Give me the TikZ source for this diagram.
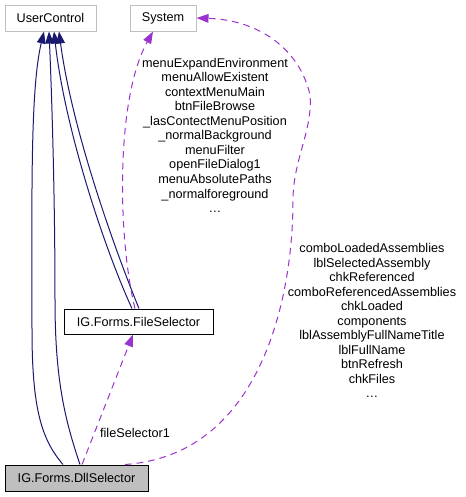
\documentclass[tikz,border=0pt]{standalone}
\usepackage{fontspec}
\setsansfont{Liberation Sans}
\usetikzlibrary{arrows.meta, calc}
\definecolor{inhcolor}{HTML}{191970}
\definecolor{usecolor}{HTML}{9A32CD}
\definecolor{extgray}{HTML}{BFBFBF}

\begin{document}
\begin{tikzpicture}[
    x=0.75pt, y=-0.75pt,
    every node/.style={font=\sffamily\fontsize{9.5pt}{10.9pt}\selectfont},
    extbox/.style={rectangle, draw=extgray, fill=white, line width=0.75pt, minimum height=19.5pt, inner sep=0pt},
    classbox/.style={rectangle, draw=black, fill=white, line width=0.75pt, minimum height=19.5pt, inner sep=0pt},
    curbox/.style={classbox, fill=extgray},
    inherit/.style={draw=inhcolor, line width=0.75pt, -{Triangle[length=9pt, width=6.5pt]}},
    usage/.style={draw=usecolor, line width=0.75pt, dash pattern=on 5pt off 3.75pt, -{Triangle[length=9pt, width=6.5pt]}},
    memberlabel/.style={align=center, inner sep=0pt},
]
\useasboundingbox (0,0) rectangle (465,497);
% classes
\node[extbox, minimum width=68.25pt] (uc) at (50.5,18) {UserControl};
\node[extbox, minimum width=49.5pt] (sys) at (163,18) {System};
\node[classbox, minimum width=111.75pt, minimum height=18.75pt] (fsel) at (138.5,321.5) {IG.Forms.FileSelector};
\node[curbox, minimum width=107.25pt] (dll) at (76.5,478) {IG.Forms.DllSelector};
% inheritance
\draw[inherit] ($(dll.north)+(-13.5,0)$) .. controls (42,440) and (32,410) .. (32,330)
    .. controls (32,200) and (30,90) .. ($(uc.south)+(-6.5,0)$);
\draw[inherit] ($(dll.north)+(3.5,0)$) .. controls (65,420) and (55,380) .. (55,300)
    .. controls (55,200) and (52,100) .. ($(uc.south)+(-1.5,0)$);
\draw[inherit] ($(fsel.north)+(-6.5,0)$) .. controls (105,250) and (65,130) .. ($(uc.south)+(3.5,0)$);
\draw[inherit] ($(fsel.north)+(0.5,0)$) .. controls (115,250) and (72,130) .. ($(uc.south)+(8.5,0)$);
% usage
\draw[usage] ($(fsel.north)+(-3.5,0)$) .. controls (118,240) and (115,100) .. ($(sys.south)+(-10,0)$);
\draw[usage] ($(dll.north)+(5.5,0)$) -- ($(fsel.south)+(-5.5,0)$);
\draw[usage] ($(dll.north)+(48.5,0)$) .. controls (260,455) and (293,300) .. (293,200)
    .. controls (293,160) and (313,130) .. (310,95)
    .. controls (300,50) and (260,20) .. (sys.east);
% member labels
\node[memberlabel] (sysmembers) at (215,135.3) {menuExpandEnvironment\\menuAllowExistent\\contextMenuMain\\btnFileBrowse\\\_lasContectMenuPosition\\\_normalBackground\\menuFilter\\openFileDialog1\\menuAbsolutePaths\\\_normalforeground\\\dots};
\node[memberlabel] (dllmembers) at (372,320.7) {comboLoadedAssemblies\\lblSelectedAssembly\\chkReferenced\\comboReferencedAssemblies\\chkLoaded\\components\\lblAssemblyFullNameTitle\\lblFullName\\btnRefresh\\chkFiles\\\dots};
\node[memberlabel] (fselmember) at (135,433) {fileSelector1};
\end{tikzpicture}
\end{document}
